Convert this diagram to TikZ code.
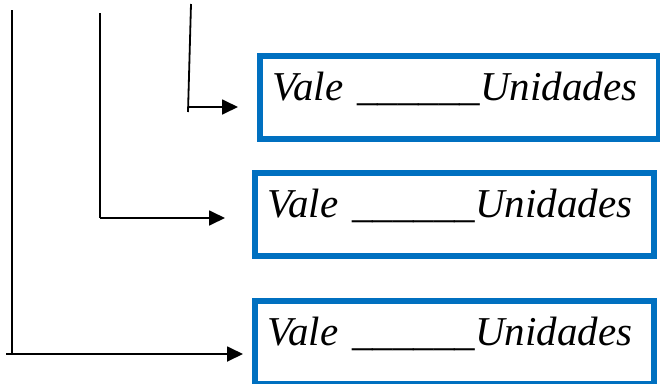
\documentclass[tikz,border=0pt]{standalone}
\usepackage{fontspec}
\newfontfamily\valefont{Liberation Serif}
\usetikzlibrary{arrows.meta}
\definecolor{boxblue}{RGB}{0,112,192}
\begin{document}
\begin{tikzpicture}[x=1pt,y=-1pt,
  valebox/.style={draw=boxblue,line width=5.5pt,anchor=north west,inner sep=0pt,
    inner xsep=13pt,text width=373pt,text height=45pt,text depth=38pt,align=left,
    font=\fontsize{41}{43}\valefont\itshape},
  guide/.style={black,line width=1.8pt},
  guidearrow/.style={guide,-{Triangle[length=16pt,width=15pt]}}]
  \useasboundingbox (0,0) rectangle (660,383);
  \node [valebox] (vale1) at (257,53) {\mbox{Vale \_\_\_\_\_\_Unidades}};
  \node [valebox] (vale2) at (252,170) {\mbox{Vale \_\_\_\_\_\_Unidades}};
  \node [valebox] (vale3) at (252,298) {\mbox{Vale \_\_\_\_\_\_Unidades}};
  \coordinate (top1) at (191,4);
  \coordinate (foot1) at (188,112);
  \coordinate (turn1) at (188,107);
  \coordinate (top2) at (100,13);
  \coordinate (turn2) at (100,218);
  \coordinate (top3) at (12,10);
  \coordinate (turn3) at (12,354);
  \coordinate (start3) at (6,354);
  \draw [guide] (top1) -- (foot1);
  \draw [guidearrow,shorten >=19pt] (turn1) -- (turn1 -| vale1.west);
  \draw [guide] (top2) -- (turn2);
  \draw [guidearrow,shorten >=27pt] (turn2) -- (turn2 -| vale2.west);
  \draw [guide] (top3) -- (turn3);
  \draw [guidearrow,shorten >=9pt] (start3) -- (start3 -| vale3.west);
\end{tikzpicture}
\end{document}
